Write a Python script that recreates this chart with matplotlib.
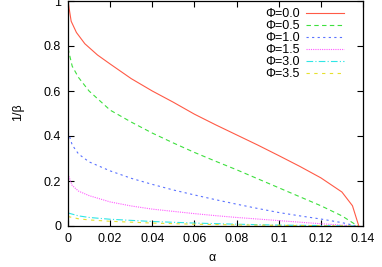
import matplotlib

matplotlib.use("Agg")
import matplotlib.pyplot as plt

# %% data (alpha vs 1/beta for several Phi)
phi_labels = ["Φ=0.0", "Φ=0.5", "Φ=1.0", "Φ=1.5", "Φ=3.0", "Φ=3.5"]

alpha_0 = [0, 0.0015, 0.004, 0.008, 0.014, 0.02, 0.03, 0.04, 0.05, 0.06, 0.07, 0.08, 0.09, 0.10, 0.11, 0.12, 0.13, 0.135, 0.138]
beta_0 = [1.0, 0.91, 0.86, 0.81, 0.76, 0.72, 0.655, 0.60, 0.55, 0.497, 0.45, 0.405, 0.36, 0.313, 0.265, 0.214, 0.151, 0.09, 0.0]

alpha_05 = [0, 0.002, 0.005, 0.01, 0.02, 0.03, 0.04, 0.05, 0.06, 0.07, 0.08, 0.09, 0.10, 0.11, 0.12, 0.13, 0.1375]
beta_05 = [0.79, 0.71, 0.66, 0.60, 0.515, 0.462, 0.413, 0.369, 0.327, 0.288, 0.25, 0.21, 0.17, 0.13, 0.09, 0.045, 0.0]

alpha_10 = [0, 0.002, 0.005, 0.01, 0.02, 0.03, 0.04, 0.05, 0.06, 0.07, 0.08, 0.09, 0.10, 0.11, 0.12, 0.13, 0.137]
beta_10 = [0.42, 0.36, 0.32, 0.285, 0.245, 0.212, 0.185, 0.16, 0.138, 0.117, 0.097, 0.078, 0.06, 0.045, 0.031, 0.015, 0.0]

alpha_15 = [0, 0.002, 0.005, 0.01, 0.02, 0.03, 0.04, 0.05, 0.06, 0.07, 0.08, 0.09, 0.10, 0.11, 0.12, 0.13, 0.137]
beta_15 = [0.23, 0.18, 0.155, 0.135, 0.107, 0.089, 0.075, 0.065, 0.055, 0.046, 0.038, 0.031, 0.024, 0.017, 0.01, 0.004, 0.0]

alpha_30 = [0, 0.005, 0.01, 0.02, 0.04, 0.06, 0.08, 0.10, 0.12, 0.137]
beta_30 = [0.058, 0.045, 0.038, 0.03, 0.02, 0.013, 0.008, 0.004, 0.002, 0.0]

alpha_35 = [0, 0.005, 0.01, 0.02, 0.04, 0.06, 0.08, 0.10, 0.12, 0.137]
beta_35 = [0.042, 0.032, 0.027, 0.021, 0.013, 0.008, 0.005, 0.003, 0.001, 0.0]

xticks = [0, 0.02, 0.04, 0.06, 0.08, 0.1, 0.12, 0.14]
xticklabels = ["0", "0.02", "0.04", "0.06", "0.08", "0.1", "0.12", "0.14"]
yticks = [0, 0.2, 0.4, 0.6, 0.8, 1]
yticklabels = ["0", "0.2", "0.4", "0.6", "0.8", "1"]

# %% plot, gnuplot-like look
plt.rcParams["font.family"] = ["Liberation Sans", "DejaVu Sans"]
plt.rcParams["font.size"] = 9

fig = plt.figure(figsize=(3.82, 2.67), dpi=100)
ax = fig.add_axes([68 / 382, 41 / 267, 295 / 382, 225 / 267])

series = [
    (alpha_0, beta_0, "#ff5a46", "-"),
    (alpha_05, beta_05, "#3ee03e", (0, (4, 3))),
    (alpha_10, beta_10, "#5a72ff", (0, (2, 3))),
    (alpha_15, beta_15, "#ff5aff", (0, (1, 1))),
    (alpha_30, beta_30, "#2ee6e6", (0, (6, 2, 1, 2))),
    (alpha_35, beta_35, "#e6e02e", (0, (3, 4))),
]
for (a, b, c, ls), lab in zip(series, phi_labels):
    ax.plot(a, b, color=c, linestyle=ls, linewidth=0.8, label=lab)

ax.set_xlim(0, 0.14)
ax.set_ylim(0, 1)
ax.set_xticks(xticks)
ax.set_xticklabels(xticklabels)
ax.set_yticks(yticks)
ax.set_yticklabels(yticklabels)
ax.tick_params(direction="in", top=True, right=True, length=4, width=0.8, pad=5)
for s in ax.spines.values():
    s.set_linewidth(0.9)

ax.set_xlabel("α")
ax.set_ylabel("1/β")
ax.xaxis.set_label_coords(0.49, -0.115)
ax.yaxis.set_label_coords(-0.15, 0.507)

ax.legend(
    loc="upper right",
    bbox_to_anchor=(350 / 382, 265 / 267),
    bbox_transform=fig.transFigure,
    frameon=False,
    markerfirst=False,
    handlelength=3.0,
    handletextpad=0.5,
    labelspacing=0.0,
    borderpad=0,
    fontsize=9,
)

fig.savefig("out.png", dpi=100)
